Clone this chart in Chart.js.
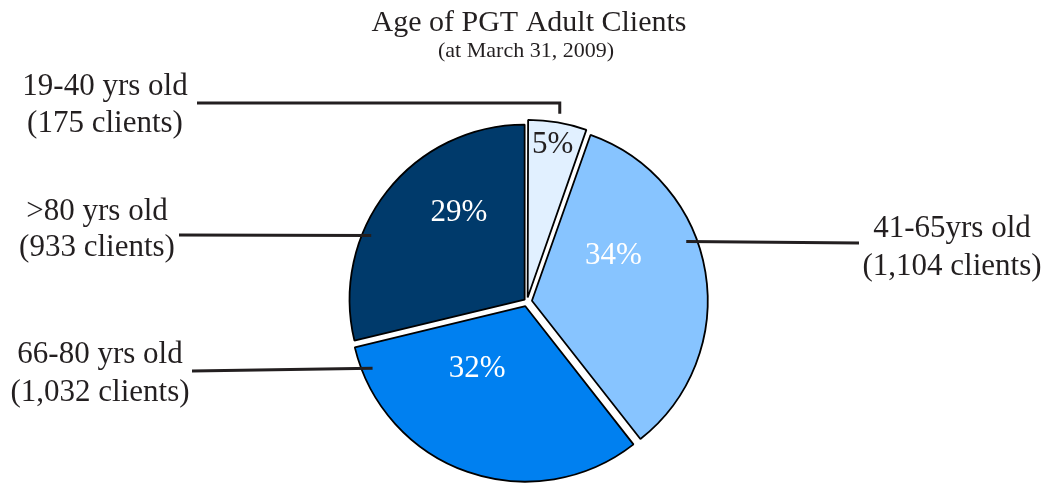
<!DOCTYPE html>
<html>
<head>
<meta charset="utf-8">
<script src="https://cdn.jsdelivr.net/npm/chart.js@4"></script>
<style>
  body{margin:0;background:#fff;}
  #wrap{width:1051px;height:487px;position:relative;}
</style>
</head>
<body>
<div id="wrap"><canvas id="pie"></canvas></div>
<script>
// DATA
let ageGroups=["19-40 yrs old","41-65yrs old","66-80 yrs old",">80 yrs old"];
let clients=[175,1104,1032,933];
let titleText="Age of PGT Adult Clients";
let subtitleText="(at March 31, 2009)";

// STYLE
let colors=["#E1F0FF","#87C4FF","#0080F0","#003A6B"];
let pctColors=["#231F20","#ffffff","#ffffff","#ffffff"];
let offsets=[16,20,20,12];   // chart.js moves the slice by offset/4
let ink="#231F20";
let font="'Liberation Serif', 'Times New Roman', serif";

// label layout: [fraction along slice, fraction of radius]
let pctPos=[[0.48,0.87],[0.34,0.53],[0.66,0.45],[0.64,0.62]];
let anchorPos=[[0.51,1.05],[0.405,0.94],[0.925,0.94],[0.35,0.95]];
let textPos=[{x:105,y:[95,132]},{x:952,y:[237,275]},{x:100,y:[363,401]},{x:97,y:[220,256]}];
let lineStart=[[197,103],[859,243],[192,371],[179,235]];

let total=clients.reduce((a,b)=>a+b,0);

// point inside a slice
function slicePoint(arc,t,k){
  let p=arc.getProps(["x","y","startAngle","endAngle","outerRadius","circumference"],true);
  let mid=(p.startAngle+p.endAngle)/2;
  let off=(arc.options.offset||0)/4;
  let cx=p.x+Math.cos(mid)*off;
  let cy=p.y+Math.sin(mid)*off;
  let r=p.outerRadius+off*(1-Math.sin(Math.min(Math.PI,p.circumference)));
  let a=p.startAngle+t*(p.endAngle-p.startAngle);
  return [cx+Math.cos(a)*r*k, cy+Math.sin(a)*r*k];
}

let labelPlugin={
  id:"labels",
  afterDatasetsDraw(chart){
    let ctx=chart.ctx;
    let arcs=chart.getDatasetMeta(0).data;
    ctx.save();

    // TITLE
    ctx.fillStyle=ink;
    ctx.textAlign="center";
    ctx.textBaseline="alphabetic";
    ctx.font="30px "+font;
    ctx.fillText(titleText,529,31);
    ctx.font="22px "+font;
    ctx.fillText(subtitleText,526,57);

    arcs.forEach((arc,i)=>{
      // percentages
      let pp=slicePoint(arc,pctPos[i][0],pctPos[i][1]);
      ctx.font="31px "+font;
      ctx.fillStyle=pctColors[i];
      ctx.textBaseline="middle";
      ctx.fillText(Math.round(clients[i]/total*100)+"%",pp[0],pp[1]);

      // leader lines
      let an=slicePoint(arc,anchorPos[i][0],anchorPos[i][1]);
      let st=lineStart[i];
      ctx.strokeStyle=ink;
      ctx.lineWidth=3;
      ctx.beginPath();
      ctx.moveTo(st[0],st[1]);
      if(i===0){
        ctx.lineTo(an[0],st[1]);
        ctx.lineTo(an[0],an[1]);
      }else{
        ctx.lineTo(an[0],an[1]);
      }
      ctx.stroke();

      // group text
      ctx.fillStyle=ink;
      ctx.textBaseline="alphabetic";
      ctx.font="31px "+font;
      ctx.fillText(ageGroups[i],textPos[i].x,textPos[i].y[0]);
      ctx.fillText("("+clients[i].toLocaleString("en-US")+" clients)",textPos[i].x,textPos[i].y[1]);
    });
    ctx.restore();
  }
};

new Chart(document.getElementById("pie"),{
  type:"pie",
  data:{
    labels:ageGroups,
    datasets:[{
      data:clients,
      backgroundColor:colors,
      borderColor:"#000",
      borderWidth:1.8,
      offset:offsets,
      radius:175
    }]
  },
  options:{
    responsive:true,
    maintainAspectRatio:false,
    animation:false,
    layout:{padding:{left:3,right:0,top:116,bottom:0}},
    plugins:{legend:{display:false},tooltip:{enabled:false},title:{display:false}}
  },
  plugins:[labelPlugin]
});
</script>
</body>
</html>
